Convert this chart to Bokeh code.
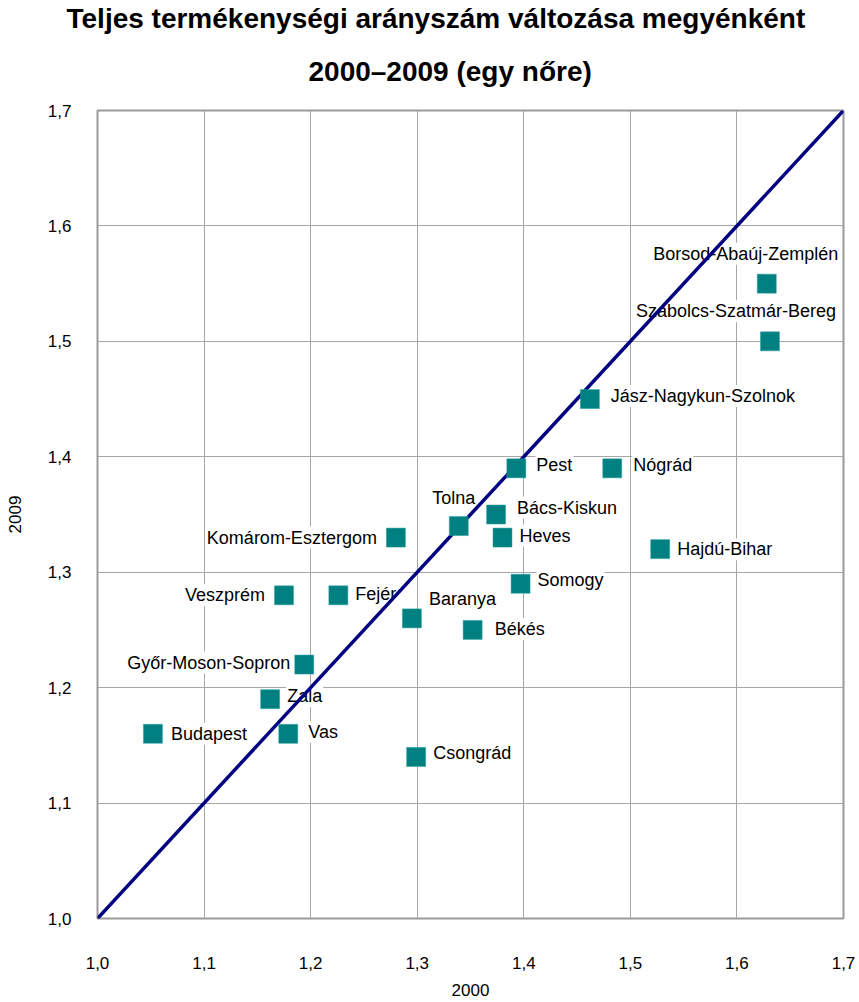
from bokeh.plotting import figure
from bokeh.models import ColumnDataSource, Title
from bokeh.core.properties import value
from bokeh.embed import file_html
from bokeh.resources import INLINE

# ---- data ----
counties = ["Budapest", "Pest", "Fejér", "Komárom-Esztergom", "Veszprém",
            "Győr-Moson-Sopron", "Vas", "Zala", "Baranya", "Somogy", "Tolna",
            "Borsod-Abaúj-Zemplén", "Heves", "Nógrád", "Hajdú-Bihar",
            "Jász-Nagykun-Szolnok", "Szabolcs-Szatmár-Bereg", "Bács-Kiskun",
            "Békés", "Csongrád"]
tfr_2000 = [1.052, 1.393, 1.226, 1.280, 1.175, 1.194, 1.179, 1.162, 1.295, 1.397,
            1.339, 1.628, 1.380, 1.483, 1.528, 1.462, 1.631, 1.374, 1.352, 1.299]
tfr_2009 = [1.16, 1.39, 1.28, 1.33, 1.28, 1.22, 1.16, 1.19, 1.26, 1.29,
            1.34, 1.55, 1.33, 1.39, 1.32, 1.45, 1.50, 1.35, 1.25, 1.14]
axis_ticks = [1.0, 1.1, 1.2, 1.3, 1.4, 1.5, 1.6, 1.7]
tick_labels = ["1,0", "1,1", "1,2", "1,3", "1,4", "1,5", "1,6", "1,7"]
title_lines = ["Teljes termékenységi arányszám változása megyénként",
               "2000–2009 (egy nőre)"]

# ---- label placement (styling, screen px) ----
label_dx = [17, 19, 16, -18, -18, -13, 19, 16, 16, 16, -5, -21, 16, 20, 16, 20, -34, 20, 21, 16]
label_dy = [0, -3, -1, 0, 0, -2, -2, -3, -19, -4, -28, -30, -2, -3, 0, -3, -30, -7, -1, -4]
label_align = ["left", "left", "left", "right", "right", "right", "left", "left", "left",
               "left", "center", "center", "left", "left", "left", "left", "center",
               "left", "left", "left"]

src = ColumnDataSource(dict(x=tfr_2000, y=tfr_2009, name=counties,
                            dx=label_dx, dy=label_dy, align=label_align))

FONT = "Liberation Sans"

p = figure(width=859, height=1002, output_backend="svg", toolbar_location=None,
           x_range=(axis_ticks[0], axis_ticks[-1]), y_range=(axis_ticks[0], axis_ticks[-1]),
           min_border_left=97, min_border_right=16, min_border_bottom=84, min_border_top=110)

p.title.visible = False
title_offsets = [-31, 211]
title_standoffs = [-8, 48]
# added nearest-first: line 2, then line 1 above it
for i in (1, 0):
    t = Title(text=title_lines[i], align="left", offset=title_offsets[i],
              text_font=FONT, text_font_size="28px", text_font_style="bold",
              text_color="black", standoff=title_standoffs[i])
    p.add_layout(t, "above")

p.outline_line_color = "#9a9a9a"
p.outline_line_width = 2
p.background_fill_color = "white"
p.border_fill_color = "white"

for ax in (p.xaxis, p.yaxis):
    ax.ticker = axis_ticks
    ax.major_label_overrides = {t: l for t, l in zip(axis_ticks, tick_labels)}
    ax.axis_line_color = None
    ax.major_tick_line_color = None
    ax.minor_tick_line_color = None
    ax.major_label_text_font = FONT
    ax.major_label_text_font_size = "17px"
    ax.major_label_text_color = "black"
    ax.axis_label_text_font = FONT
    ax.axis_label_text_font_size = "17px"
    ax.axis_label_text_font_style = "normal"
    ax.axis_label_text_color = "black"

p.xaxis.axis_label = "2000"
p.yaxis.axis_label = "2009"
p.xaxis.major_label_standoff = 32
p.xaxis.axis_label_standoff = 12
p.yaxis.major_label_standoff = 20
p.yaxis.axis_label_standoff = 24

p.grid.grid_line_color = "#a6a6a6"
p.grid.grid_line_width = 1
p.xgrid.ticker = axis_ticks
p.ygrid.ticker = axis_ticks

# labels (white background, below diagonal)
p.text(x="x", y="y", text="name", source=src, x_offset="dx", y_offset="dy",
       text_align="align", text_baseline="middle",
       text_font=value(FONT), text_font_size="18px", text_color="black",
       background_fill_color="white", padding=1)

# diagonal reference line
p.line(x=[axis_ticks[0], axis_ticks[-1]], y=[axis_ticks[0], axis_ticks[-1]],
       line_color="#000080", line_width=3.5)

# markers
p.scatter(x="x", y="y", source=src, marker="square", size=19,
          fill_color="#008080", line_color="#2aa0a0", line_width=0.5)

open("out.html", "w").write(file_html(p, INLINE))
